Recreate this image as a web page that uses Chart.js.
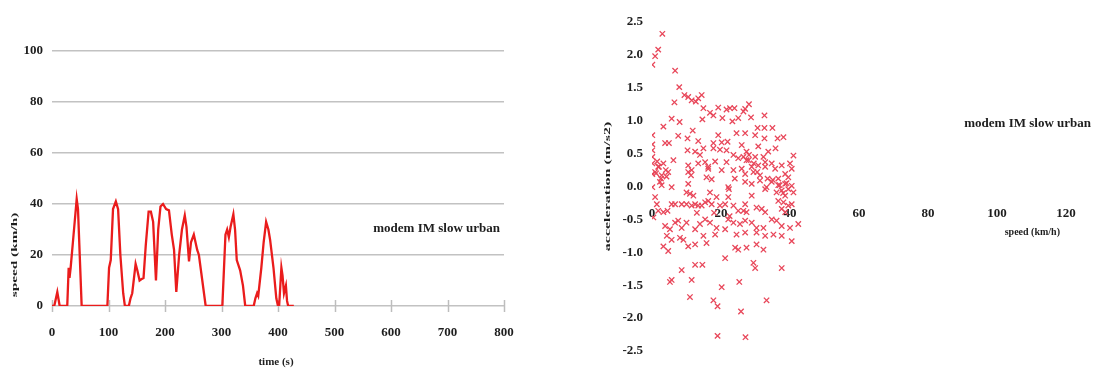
<!DOCTYPE html>
<html>
<head>
<meta charset="utf-8">
<script src="https://cdn.jsdelivr.net/npm/chart.js@4/dist/chart.umd.min.js"></script>
<style>
  html, body { margin: 0; padding: 0; background: #fff; }
  #wrap { position: relative; width: 1097px; height: 371px; overflow: hidden; background: #fff; }
  canvas { position: absolute; top: 0; }
  #speedChart { left: 0; }
  #accelChart { left: 560px; }
</style>
</head>
<body>
<div id="wrap">
  <canvas id="speedChart" width="540" height="371"></canvas>
  <canvas id="accelChart" width="537" height="371"></canvas>
</div>
<script>
// Driving cycle name shown on both panels
const cycleName = 'modem IM slow urban';

// Speed trace: time (s) and speed (km/h)
const timeS = [0, 4, 9.4, 13.6, 27, 29.5, 31, 33, 37, 43.7, 46, 52.5, 98, 101, 104, 108, 113, 117, 121, 126,
  129, 136, 139, 142, 148, 151, 155, 158, 162, 166, 171, 175, 179, 184, 188, 192, 196.5, 202, 207, 212,
  216, 220, 225, 230, 235, 238, 242.5, 246, 251, 257, 260, 266, 272, 301.5, 307, 310, 313, 316, 321, 324,
  327, 333, 338, 342, 357, 360, 363, 365, 370.5, 374.6, 379, 383, 386, 392, 397, 400, 402, 406, 408, 410.6,
  414, 416, 418, 428];
const speedKmh = [0, 0, 5.5, 0, 0, 15, 11, 15, 25, 42, 38, 0, 0, 15, 18, 38, 41, 38, 20, 5,
  0, 0, 3, 5, 16.5, 14, 10, 10.5, 11, 24, 37, 37, 33, 10, 30, 39, 40, 38, 37.5, 28,
  22, 5.5, 20, 30, 35.5, 31, 17.5, 25, 28, 22, 20, 10, 0, 0, 28, 30, 27, 31, 36, 30,
  18, 14, 8, 0, 0, 3, 5, 4, 15, 25, 33, 30, 26, 15, 3, 0, 0, 15, 12, 5,
  8, 2, 0, 0];

// Acceleration against speed, one entry per sample
const scatterSpeed = [
  3.0, 1.8, 0.9, 0.1, 6.7, 7.9, 9.4, 6.5, 11.5, 12.7, 13.4, 14.4, 28.1, 14.9, 19.2, 22.6, 23.9, 27.0, 10.5,
  16.8, 17.8, 20.4, 21.6, 25.0, 26.5, 28.7, 5.7, 3.3,
  0.1, 0.1, 0.1, 0.1, 0.1, 0.1,
  3.8, 4.9, 7.6, 10.3, 11.8, 13.4, 14.6, 19.2, 17.8, 20.2, 21.9, 23.3, 24.5, 27.0, 29.9, 30.6, 32.6, 32.6, 34.9, 32.6, 36.4, 38.1, 30.8,
  10.3, 12.5, 13.9, 14.9, 17.8, 19.7, 21.6, 23.6, 26.0, 27.4, 28.1, 29.9, 32.3, 33.7, 35.8, 41.0,
  6.2, 10.5, 13.4, 15.4, 16.3, 18.3, 21.6, 25.0, 27.4, 28.9, 30.8, 32.8, 34.7, 37.6, 40.0,
  1.8, 3.3, 4.0, 2.8, 0.9, 2.3, 4.7, 10.5, 11.5, 16.3, 23.6, 26.0, 27.0, 29.4, 31.3, 32.8, 35.7, 38.6, 39.5, 40.5,
  17.3, 27.0, 28.9, 31.3, 34.7, 36.6, 38.6, 40.5, 2.8, 5.7, 10.5, 22.1, 33.2, 11.3, 15.8, 20.2,
  0.1, 0.9, 1.4, 1.8, 0.4, 3.3, 4.5, 5.7, 6.7, 8.6, 10.0, 11.5, 12.5, 13.4, 14.4, 15.4, 16.3, 17.3,
  10.0, 11.0, 12.0, 16.8, 18.7, 22.1, 22.3, 23.6, 25.0, 26.5, 27.4, 28.9, 30.3, 31.8, 32.8, 32.8, 36.1, 37.6, 38.6, 36.6,
  38.1, 39.5, 37.6, 40.5, 38.6, 19.7, 21.2, 27.0, 36.6, 39.5, 41.0,
  3.8, 5.2, 6.7, 7.6, 8.6, 10.0, 12.5, 13.9, 15.4, 16.8, 18.7, 21.2, 22.1, 23.6, 25.5, 27.0, 28.9, 30.3, 32.3, 34.7, 36.1, 37.6, 40.0, 42.4,
  4.3, 5.7, 8.1, 9.1, 10.5, 12.5, 14.9, 15.8, 18.3, 24.5, 27.0, 30.3, 32.8, 35.2, 37.6, 40.5,
  3.3, 4.7, 21.2, 24.1, 25.0, 27.4, 30.3, 32.3, 12.5, 14.6, 29.4, 29.9, 37.6, 8.6,
  5.2, 5.7, 11.5, 20.2, 25.3, 11.0, 17.8, 19.0, 33.2, 25.8, 19.0, 27.1,
  1.2, 2.0, 2.6, 1.5, 4.2, 26.5, 28.0, 29.5, 30.5, 24.0, 33.5, 35.0, 37.0, 38.0, 39.0, 8.0, 13.0, 18.0, 22.5
];
const scatterAccel = [
  2.32, 2.08, 1.98, 1.85, 1.76, 1.51, 1.39, 1.28, 1.31, 1.29, 1.34, 1.39, 1.25, 1.19, 1.20, 1.19, 1.19, 1.18, 1.36,
  1.12, 1.08, 1.04, 1.17, 1.04, 1.14, 1.05, 1.03, 0.91,
  0.78, 0.64, 0.55, 0.45, 0.35, 0.19,
  0.66, 0.66, 0.77, 0.73, 0.85, 0.69, 1.02, 0.78, 0.66, 0.67, 0.68, 0.99, 0.81, 0.81, 0.78, 0.89, 0.89, 1.08, 0.89, 0.73, 0.73, 0.75, 0.61,
  0.55, 0.53, 0.48, 0.58, 0.58, 0.56, 0.55, 0.48, 0.63, 0.53, 0.48, 0.45, 0.45, 0.53, 0.58, 0.47,
  0.40, 0.32, 0.35, 0.37, 0.30, 0.38, 0.37, 0.43, 0.40, 0.30, 0.32, 0.37, 0.35, 0.32, 0.35,
  0.30, 0.35, 0.25, 0.17, 0.22, 0.07, 0.22, 0.22, 0.25, 0.27, 0.25, 0.27, 0.19, 0.22, 0.17, 0.30, 0.27, 0.19, 0.14, 0.27,
  0.11, 0.07, 0.04, 0.09, 0.07, 0.12, 0.04, 0.01, 0.02, -0.01, 0.04, -0.01, -0.01, 0.17, 0.14, 0.25,
  -0.01, -0.16, -0.27, -0.37, -0.47, -0.39, -0.37, -0.27, -0.27, -0.27, -0.27, -0.29, -0.27, -0.29, -0.29, -0.24, -0.22, -0.27,
  -0.09, -0.11, -0.14, -0.09, -0.16, -0.16, -0.04, -0.29, -0.37, -0.37, -0.39, -0.14, -0.32, -0.34, -0.39, -0.04, -0.09, -0.06, -0.14, -0.22,
  -0.24, -0.29, -0.34, -0.27, -0.39, -0.29, -0.27, -0.27, 0.02, -0.04, -0.09,
  -0.60, -0.65, -0.55, -0.52, -0.63, -0.55, -0.65, -0.57, -0.50, -0.55, -0.63, -0.65, -0.50, -0.55, -0.57, -0.52, -0.55, -0.63, -0.63, -0.50, -0.52, -0.60, -0.63, -0.57,
  -0.75, -0.81, -0.78, -0.81, -0.91, -0.88, -0.75, -0.86, -0.73, -0.73, -0.70, -0.70, -0.75, -0.73, -0.75, -0.83,
  -0.91, -0.98, -1.09, -0.93, -0.96, -0.93, -0.88, -0.96, -1.19, -1.19, -1.16, -1.24, -1.24, -1.27,
  -1.45, -1.42, -1.42, -1.53, -1.45, -1.68, -1.73, -1.82, -1.73, -1.90, -2.27, -2.29,
  0.20, 0.30, 0.12, 0.38, 0.15, 0.45, 0.40, 0.35, 0.22, 0.12, 0.12, 0.10, 0.02, -0.10, 0.05, 0.98, -0.40, -0.40, -0.45
];

// Tick values
const timeTicks = [0, 100, 200, 300, 400, 500, 600, 700, 800];
const speedAxisTicks = [0, 20, 40, 60, 80, 100];
const scatterSpeedTicks = [0, 20, 40, 60, 80, 100, 120];
const accelTicks = [-2.5, -2, -1.5, -1, -0.5, 0, 0.5, 1, 1.5, 2, 2.5];

const SERIF = '"Liberation Serif", "Times New Roman", "DejaVu Serif", serif';
const TEXT = '#1e1e1e';
Chart.defaults.font.family = SERIF;
Chart.defaults.font.weight = 'bold';
Chart.defaults.color = TEXT;

function setTicks(values) {
  return scale => { scale.ticks = values.map(v => ({ value: v })); };
}

// Text helper: bold serif, optionally rotated and stretched along its run
function drawText(ctx, text, x, y, size, opts = {}) {
  ctx.save();
  ctx.translate(x, y);
  if (opts.rotate) ctx.rotate(-Math.PI / 2);
  ctx.scale(opts.stretch || 1, 1);
  ctx.font = 'bold ' + size + 'px ' + SERIF;
  ctx.fillStyle = TEXT;
  ctx.textAlign = opts.align || 'center';
  ctx.textBaseline = 'middle';
  ctx.fillText(text, 0, 0);
  ctx.restore();
}

// ---- Speed against time ----
const speedDecor = {
  id: 'speedDecor',
  beforeDatasetsDraw(chart) {
    const { ctx, chartArea, scales } = chart;
    ctx.save();
    ctx.strokeStyle = '#bdbdbd';
    ctx.lineWidth = 1.5;
    scales.x.ticks.forEach(t => {
      const px = Math.round(scales.x.getPixelForValue(t.value)) + 0.5;
      ctx.beginPath();
      ctx.moveTo(px, chartArea.bottom - 6);
      ctx.lineTo(px, chartArea.bottom + 6);
      ctx.stroke();
    });
    ctx.restore();
  },
  afterDraw(chart) {
    const { ctx, chartArea, scales } = chart;
    drawText(ctx, 'speed (km/h)', 15, chartArea.bottom - 51, 9, { rotate: true, stretch: 1.7 });
    drawText(ctx, 'time (s)', (chartArea.left + chartArea.right) / 2 - 2, chartArea.bottom + 56, 11);
    drawText(ctx, chart.data.datasets[0].label, chartArea.right - 4, scales.y.getPixelForValue(30.5), 13, { align: 'right' });
  }
};

new Chart(document.getElementById('speedChart'), {
  type: 'line',
  data: {
    datasets: [{
      label: cycleName,
      data: timeS.map((t, i) => ({ x: t, y: speedKmh[i] })),
      borderColor: '#ea1c1c',
      borderWidth: 2.3,
      pointRadius: 0,
      tension: 0,
      fill: false
    }]
  },
  options: {
    responsive: false,
    animation: false,
    devicePixelRatio: 1,
    layout: { padding: { top: 51, right: 36, left: 0, bottom: 0 } },
    plugins: { legend: { display: false }, tooltip: { enabled: false } },
    scales: {
      x: {
        type: 'linear', min: 0, max: 800,
        afterBuildTicks: setTicks(timeTicks),
        afterFit: s => { s.height = 65; },
        grid: { display: false, drawTicks: false },
        border: { display: false },
        ticks: { padding: 19, font: { size: 13, weight: 'bold' }, color: TEXT }
      },
      y: {
        min: 0, max: 100,
        afterBuildTicks: setTicks(speedAxisTicks),
        afterFit: s => { s.width = 52; },
        grid: { color: '#c2c2c2', lineWidth: 1.5, drawTicks: false },
        border: { display: false },
        ticks: { padding: 9, font: { size: 13, weight: 'bold' }, color: TEXT }
      }
    }
  },
  plugins: [speedDecor]
});

// ---- Acceleration against speed ----
const accelDecor = {
  id: 'accelDecor',
  afterDraw(chart) {
    const { ctx, chartArea, scales, width } = chart;
    const axisY = scales.y.getPixelForValue(0);
    drawText(ctx, 'acceleration (m/s2)', 48, (chartArea.top + chartArea.bottom) / 2, 9, { rotate: true, stretch: 1.78 });
    drawText(ctx, 'speed (km/h)', chartArea.right - 6, axisY + 46, 10, { align: 'right' });
    drawText(ctx, chart.data.datasets[0].label, width - 6, scales.y.getPixelForValue(0.95), 13, { align: 'right' });
  }
};

new Chart(document.getElementById('accelChart'), {
  type: 'scatter',
  data: {
    datasets: [{
      label: cycleName,
      data: scatterSpeed.map((v, i) => ({ x: v, y: scatterAccel[i] })),
      pointStyle: 'crossRot',
      pointRadius: 3.8,
      borderWidth: 1.3,
      borderColor: '#e8475a',
      backgroundColor: '#e8475a'
    }]
  },
  options: {
    responsive: false,
    animation: false,
    devicePixelRatio: 1,
    layout: { padding: { top: 22, right: 31, left: 0, bottom: 20 } },
    plugins: { legend: { display: false }, tooltip: { enabled: false } },
    scales: {
      x: {
        type: 'linear', min: 0, max: 120,
        position: { y: 0 },
        afterBuildTicks: setTicks(scatterSpeedTicks),
        grid: { display: false, drawTicks: false },
        border: { display: false },
        ticks: { padding: 19, font: { size: 13, weight: 'bold' }, color: TEXT }
      },
      y: {
        min: -2.5, max: 2.5,
        afterBuildTicks: setTicks(accelTicks),
        afterFit: s => { s.width = 92; },
        grid: { display: false, drawTicks: false },
        border: { display: false },
        ticks: { padding: 9, font: { size: 13, weight: 'bold' }, color: TEXT, callback: v => Number(v).toFixed(1) }
      }
    }
  },
  plugins: [accelDecor]
});
</script>
</body>
</html>
